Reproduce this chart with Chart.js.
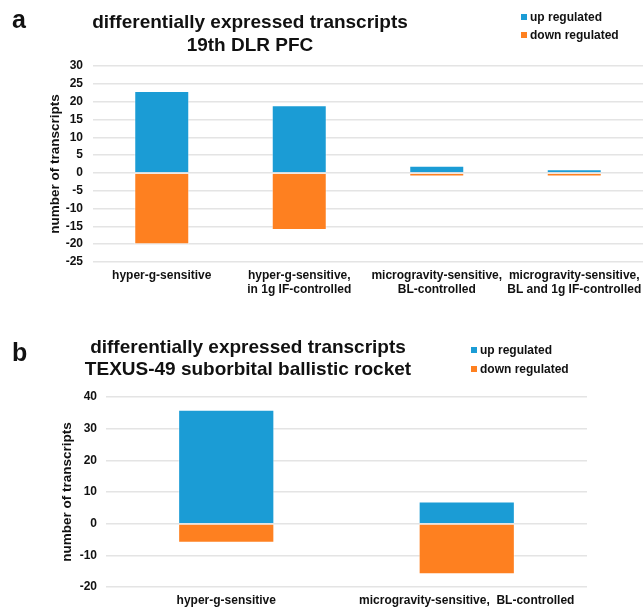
<!DOCTYPE html>
<html>
<head>
<meta charset="utf-8">
<script src="https://cdn.jsdelivr.net/npm/chart.js@4"></script>
<style>
  body { margin: 0; background: #fff; font-family: "Liberation Sans", Arial, sans-serif; }
  #page { position: relative; width: 643px; height: 608px; overflow: hidden; }
  .panel { position: absolute; left: 0; width: 643px; }
  .letter { position: absolute; font-weight: bold; font-size: 25px; color: #111; }
  .title { position: absolute; font-weight: bold; font-size: 19px; text-align: center; color: #111; white-space: nowrap; }
  .legend { position: absolute; font-weight: bold; font-size: 12px; color: #111; white-space: nowrap; }
  .legend span { display: inline-block; width: 6px; height: 6px; margin-right: 3px; vertical-align: 1px; }
</style>
</head>
<body>
<div id="page">
  <div class="panel" style="top:0;height:300px"><canvas id="chartA"></canvas></div>
  <div class="panel" style="top:310px;height:298px"><canvas id="chartB"></canvas></div>

  <div class="letter" style="left:12px;top:5px">a</div>
  <div class="title" style="left:70px;width:360px;top:10px;line-height:23px">differentially expressed transcripts<br>19th DLR PFC</div>
  <div class="legend" style="left:521px;top:8px;line-height:18px">
    <div><span style="background:#1b9cd5"></span>up regulated</div>
    <div><span style="background:#fe8020"></span>down regulated</div>
  </div>

  <div class="letter" style="left:12px;top:338px">b</div>
  <div class="title" style="left:68px;width:360px;top:336px;line-height:22px">differentially expressed transcripts<br>TEXUS-49 suborbital ballistic rocket</div>
  <div class="legend" style="left:471px;top:341px;line-height:19px">
    <div><span style="background:#1b9cd5"></span>up regulated</div>
    <div><span style="background:#fe8020"></span>down regulated</div>
  </div>
</div>

<script>
// Panel a: 19th DLR PFC
const labelsA = [
  ["hyper-g-sensitive"],
  ["hyper-g-sensitive,", "in 1g IF-controlled"],
  ["microgravity-sensitive,", "BL-controlled"],
  ["microgravity-sensitive,", "BL and 1g IF-controlled"]
];
const upA = [23, 19, 2, 1];
const downA = [-20, -16, -1, -1];

// Panel b: TEXUS-49
const labelsB = ["hyper-g-sensitive", "microgravity-sensitive,  BL-controlled"];
const upB = [36, 7];
const downB = [-6, -16];

const blue = "#1b9cd5";
const orange = "#fe8020";
const gridColor = "#e4e4e4";
const font = "'Liberation Sans', Arial, sans-serif";

function makeChart(id, labels, up, down, opts) {
  const ctx = document.getElementById(id).getContext("2d");
  return new Chart(ctx, {
    type: "bar",
    data: {
      labels: labels,
      datasets: [{
        label: "up regulated",
        data: up,
        backgroundColor: blue,
        borderColor: "rgba(255,255,255,0.45)",
        borderWidth: 1,
        barPercentage: 0.4,
        categoryPercentage: 1
      }, {
        label: "down regulated",
        data: down,
        backgroundColor: orange,
        borderColor: "rgba(255,255,255,0.45)",
        borderWidth: 1,
        barPercentage: 0.4,
        categoryPercentage: 1
      }]
    },
    options: {
      responsive: true,
      maintainAspectRatio: false,
      animation: false,
      layout: { padding: opts.padding },
      plugins: {
        legend: { display: false },
        tooltip: { enabled: false }
      },
      scales: {
        x: {
          stacked: true,
          grid: { display: false, drawTicks: false },
          border: { display: false },
          ticks: {
            color: "#111",
            maxRotation: 0,
            autoSkip: false,
            padding: 6,
            font: { family: font, weight: "bold", size: 12 }
          },
          afterFit: function (scale) {
            scale.height = opts.xHeight;
            scale.paddingLeft = 0;
            scale.paddingRight = 0;
          }
        },
        y: {
          stacked: true,
          min: opts.min,
          max: opts.max,
          grid: { color: gridColor, lineWidth: 1.5, drawTicks: false },
          border: { display: false },
          ticks: {
            stepSize: opts.step,
            color: "#111",
            padding: opts.yPad,
            font: { family: font, weight: "bold", size: 12 }
          },
          title: {
            display: true,
            text: "number of transcripts",
            color: "#111",
            padding: 2,
            font: { family: font, weight: "bold", size: 13.5 }
          },
          afterFit: function (scale) { scale.width = opts.yWidth; }
        }
      }
    }
  });
}

makeChart("chartA", labelsA, upA, downA, {
  padding: { top: 66, right: 0, left: 45, bottom: 0 },
  xHeight: 38, yWidth: 48, yPad: 10,
  min: -25, max: 30, step: 5
});

makeChart("chartB", labelsB, upB, downB, {
  padding: { top: 87, right: 56, left: 57, bottom: 0 },
  xHeight: 21, yWidth: 49, yPad: 9,
  min: -20, max: 40, step: 10
});
</script>
</body>
</html>
